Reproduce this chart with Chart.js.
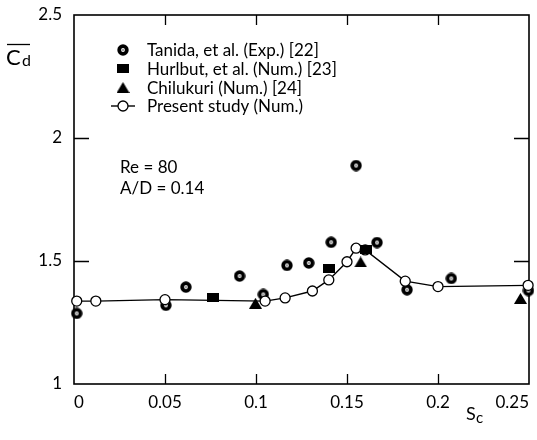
<!DOCTYPE html>
<html>
<head>
<meta charset="utf-8">
<script src="https://cdn.jsdelivr.net/npm/chart.js@4/dist/chart.umd.min.js"></script>
<style>
  html, body { margin: 0; padding: 0; background: #fff; }
  canvas { display: block; }
</style>
</head>
<body>
<canvas id="chart" width="537" height="440"></canvas>
<script>
// Mean drag coefficient vs. gap ratio Sc (Re = 80, A/D = 0.14)
const tanidaX    = [0.0015, 0.0505, 0.0615, 0.091, 0.104, 0.117, 0.129, 0.1413, 0.155, 0.1665, 0.183, 0.2073, 0.2497];
const tanidaCd   = [1.287, 1.320, 1.394, 1.439, 1.364, 1.482, 1.492, 1.576, 1.888, 1.575, 1.383, 1.429, 1.380];

const hurlbutX   = [0.0766, 0.140, 0.1605];
const hurlbutCd  = [1.351, 1.468, 1.546];

const chilukuriX  = [0.0997, 0.1575, 0.2453];
const chilukuriCd = [1.328, 1.496, 1.348];

const presentX   = [0.0015, 0.012, 0.050, 0.105, 0.116, 0.131, 0.140, 0.150, 0.155, 0.160, 0.182, 0.200, 0.2495];
const presentCd  = [1.337, 1.337, 1.343, 1.337, 1.350, 1.378, 1.423, 1.497, 1.552, 1.545, 1.418, 1.396, 1.401];

const seriesLabels = [
  'Tanida, et al. (Exp.) [22]',
  'Hurlbut, et al. (Num.) [23]',
  'Chilukuri (Num.) [24]',
  'Present study (Num.)'
];
const xTickLabels = ['0', '0.05', '0.1', '0.15', '0.2', '0.25'];
const yTickLabels = ['1', '1.5', '2', '2.5'];
const noteLines   = ['Re = 80', 'A/D = 0.14'];

const FONT = 'Lato';
const pts = (xs, ys) => xs.map((x, i) => ({ x: x, y: ys[i] }));

// Marker glyphs
function makeCanvas(w, h, draw) {
  const c = document.createElement('canvas');
  c.width = w; c.height = h;
  draw(c.getContext('2d'));
  return c;
}
const dotRing = makeCanvas(12, 12, g => {
  g.fillStyle = '#000';
  g.beginPath(); g.arc(6, 6, 5.7, 0, Math.PI * 2); g.fill();
  g.fillStyle = '#fff';
  g.beginPath(); g.arc(6, 6, 1.9, 0, Math.PI * 2); g.fill();
  g.fillStyle = '#000';
  g.beginPath(); g.arc(6, 6, 0.7, 0, Math.PI * 2); g.fill();
});
const block = makeCanvas(12, 9, g => {
  g.fillStyle = '#000';
  g.fillRect(0, 0, 12, 9);
});
const wedge = makeCanvas(13, 11, g => {
  g.fillStyle = '#000';
  g.beginPath(); g.moveTo(6.5, 0); g.lineTo(13, 11); g.lineTo(0, 11); g.closePath(); g.fill();
});

function labelFor(list, value) {
  const hit = list.find(s => Math.abs(parseFloat(s) - value) < 1e-6);
  return hit === undefined ? '' : hit;
}

// Box frame with inward ticks on all four sides
const framePlugin = {
  id: 'frame',
  beforeDatasetsDraw(chart) {
    const { ctx, chartArea: a, scales: { x, y } } = chart;
    ctx.save();
    ctx.strokeStyle = '#000';
    ctx.lineWidth = 1.6;
    ctx.strokeRect(a.left, a.top, a.right - a.left, a.bottom - a.top);
    ctx.lineWidth = 1.3;
    ctx.beginPath();
    x.ticks.forEach(t => {
      const px = Math.round(x.getPixelForValue(t.value)) + 0.5;
      if (px <= a.left + 2 || px >= a.right - 2) return;
      ctx.moveTo(px, a.bottom); ctx.lineTo(px, a.bottom - 10);
      ctx.moveTo(px, a.top);    ctx.lineTo(px, a.top + 10);
    });
    y.ticks.forEach(t => {
      const py = Math.round(y.getPixelForValue(t.value)) + 0.5;
      if (py <= a.top + 2 || py >= a.bottom - 2) return;
      ctx.moveTo(a.left, py);  ctx.lineTo(a.left + 15, py);
      ctx.moveTo(a.right, py); ctx.lineTo(a.right - 15, py);
    });
    ctx.stroke();
    ctx.restore();
  }
};

// Legend, flow note and axis titles
const annotatePlugin = {
  id: 'annotate',
  afterDraw(chart) {
    const { ctx } = chart;
    ctx.save();
    ctx.fillStyle = '#000';
    ctx.strokeStyle = '#000';
    ctx.textBaseline = 'middle';
    ctx.font = '17px ' + FONT;

    // legend
    const mx = 123, tx = 147, rows = [50, 68.5, 87.5, 106];
    chart.data.datasets.forEach((ds, i) => {
      const yy = rows[i];
      if (ds.showLine) {
        ctx.lineWidth = 1.4;
        ctx.beginPath(); ctx.moveTo(111, yy); ctx.lineTo(135, yy); ctx.stroke();
        ctx.beginPath(); ctx.arc(mx, yy, ds.pointRadius, 0, Math.PI * 2);
        ctx.fillStyle = '#fff'; ctx.fill();
        ctx.lineWidth = ds.pointBorderWidth; ctx.stroke();
        ctx.fillStyle = '#000';
      } else {
        const img = ds.pointStyle;
        ctx.drawImage(img, mx - img.width / 2, yy - img.height / 2);
      }
      ctx.fillText(ds.label, tx, yy + 1);
    });

    // flow parameters
    ctx.font = '17px ' + FONT;
    ctx.textBaseline = 'alphabetic';
    ctx.fillText(noteLines[0], 120, 173);
    ctx.fillText(noteLines[1], 120, 194);

    // y title: C with overbar, subscript d
    ctx.font = '22px ' + FONT;
    ctx.fillText('C', 6, 65);
    ctx.font = '16px ' + FONT;
    ctx.fillText('d', 22, 66);
    ctx.lineWidth = 1.3;
    ctx.beginPath(); ctx.moveTo(7, 44.5); ctx.lineTo(30, 44.5); ctx.stroke();

    // x title: S with subscript c
    ctx.font = '18px ' + FONT;
    ctx.fillText('S', 466, 420);
    ctx.font = '15px ' + FONT;
    ctx.fillText('c', 476, 423);
    ctx.restore();
  }
};

new Chart(document.getElementById('chart'), {
  type: 'scatter',
  data: {
    datasets: [
      { label: seriesLabels[0], data: pts(tanidaX, tanidaCd), pointStyle: dotRing, order: 4 },
      { label: seriesLabels[1], data: pts(hurlbutX, hurlbutCd), pointStyle: block, order: 2 },
      { label: seriesLabels[2], data: pts(chilukuriX, chilukuriCd), pointStyle: wedge, order: 1 },
      { label: seriesLabels[3], data: pts(presentX, presentCd), showLine: true,
        borderColor: '#000', borderWidth: 1.4, backgroundColor: '#fff',
        pointRadius: 5, pointBorderWidth: 1.3, pointBackgroundColor: '#fff', pointBorderColor: '#000',
        tension: 0, order: 3 }
    ]
  },
  options: {
    responsive: false,
    animation: false,
    devicePixelRatio: 1,
    clip: false,
    layout: { padding: { left: 0, right: 8, top: 15, bottom: 0 } },
    plugins: { legend: { display: false }, tooltip: { enabled: false } },
    scales: {
      x: {
        type: 'linear', min: 0, max: 0.25,
        grid: { display: false, drawTicks: false },
        border: { display: false },
        ticks: {
          stepSize: 0.05, padding: 8, align: 'inner', color: '#000',
          font: { family: FONT, size: 17 },
          maxRotation: 0, autoSkip: false,
          callback: v => labelFor(xTickLabels, v)
        },
        afterFit(s) { s.height = 56; s.paddingLeft = 0; s.paddingRight = 0; }
      },
      y: {
        type: 'linear', min: 1, max: 2.5,
        grid: { display: false, drawTicks: false },
        border: { display: false },
        ticks: {
          stepSize: 0.5, padding: 12, color: '#000',
          font: { family: FONT, size: 17 },
          callback: v => labelFor(yTickLabels, v)
        },
        afterFit(s) { s.width = 74; s.paddingTop = 0; s.paddingBottom = 0; }
      }
    }
  },
  plugins: [framePlugin, annotatePlugin]
});
</script>
</body>
</html>
